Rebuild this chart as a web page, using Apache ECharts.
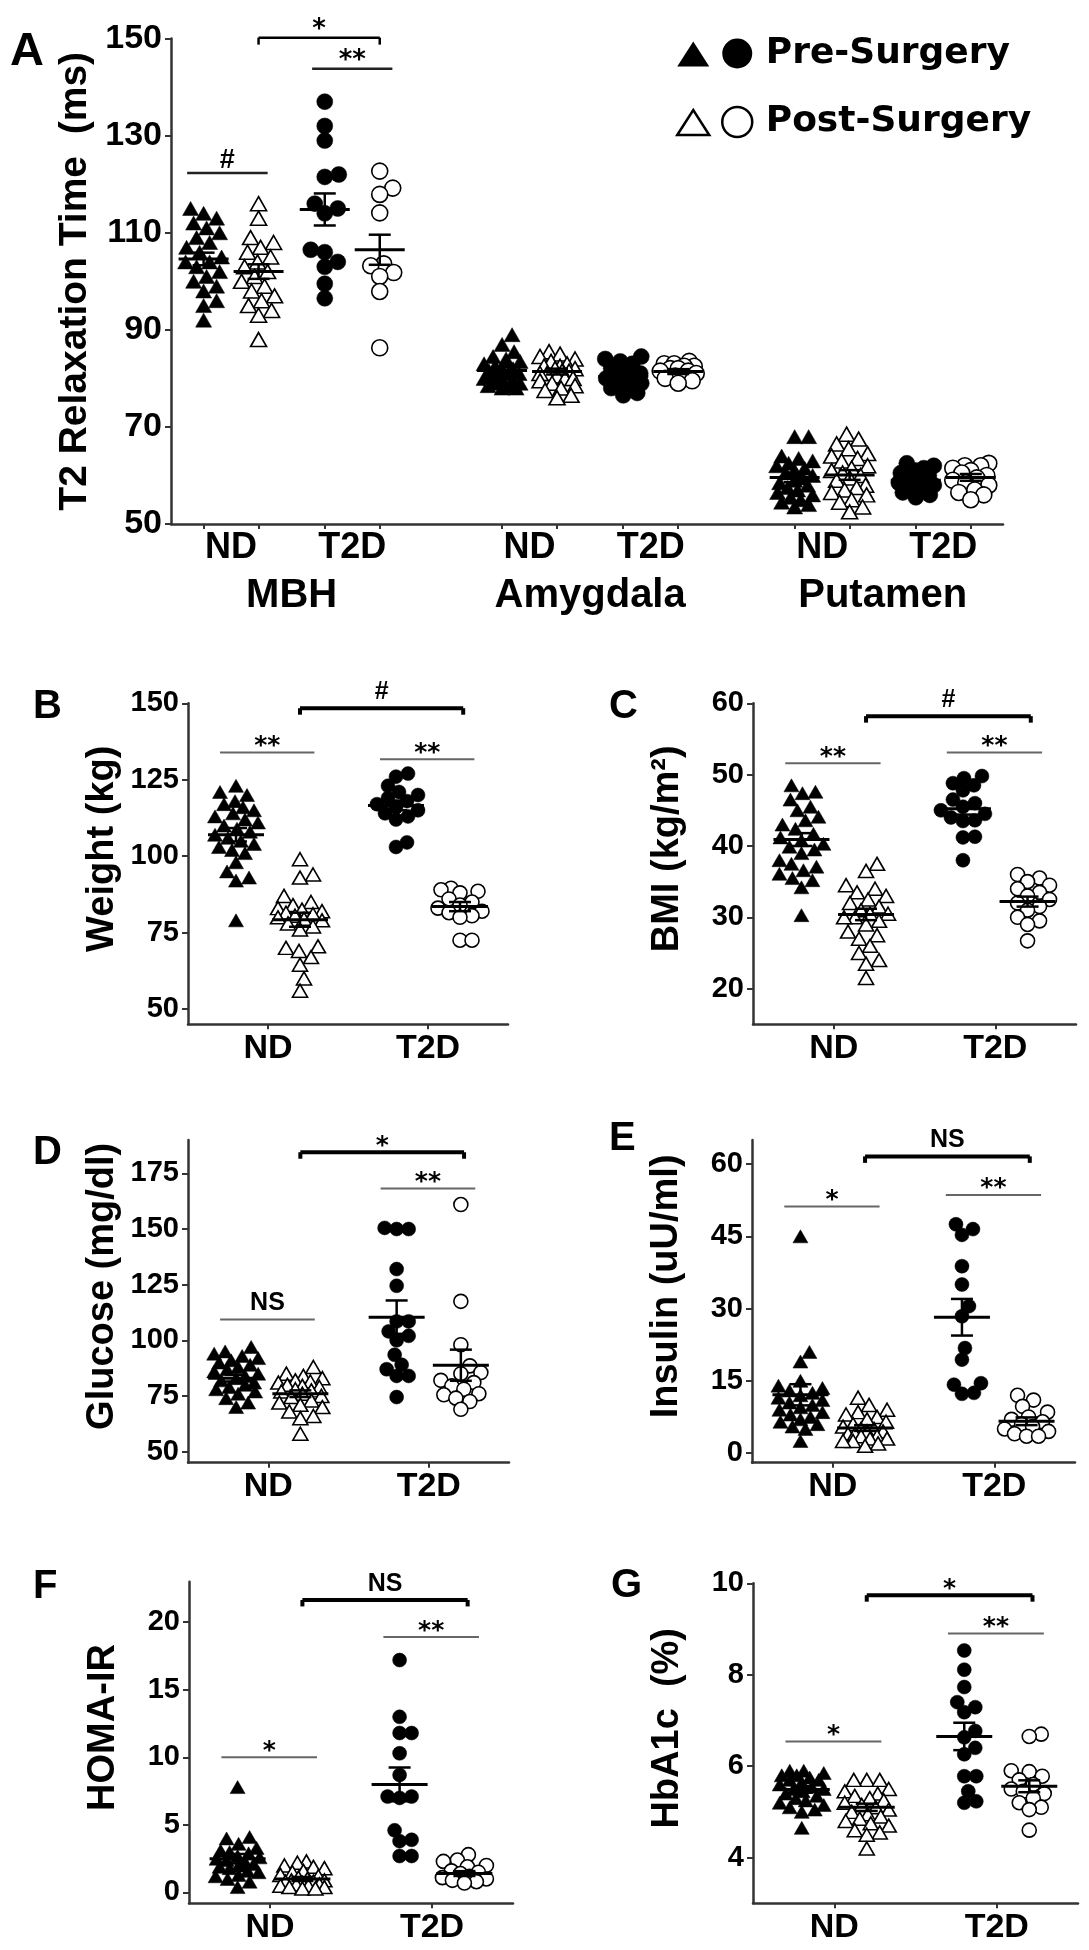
<!DOCTYPE html>
<html>
<head>
<meta charset="utf-8">
<script src="https://cdn.jsdelivr.net/npm/echarts@6/dist/echarts.min.js"></script>
<style>html,body{margin:0;padding:0;background:#fff}#chart{width:1089px;height:1950px}</style>
</head>
<body>
<div id="chart"></div>
<script>
// ---------------- DATA ----------------
const conditions = ['Pre-Surgery', 'Post-Surgery'];
const groupLabels = ['ND', 'T2D'];
const regionLabels = ['MBH', 'Amygdala', 'Putamen'];

// Panel A: T2 relaxation time (ms)
const mbhNDPre = [115,114,113,112,111,110,109,108,107,106,105,104,104,103,102,101,100,99,98,96,95,92];
const mbhNDPost = [116,113,109,108,107,106,105,104,103,102,101,100,99,98,97,96,95,94,93,88];
const mbhT2DPre = [137,132,129,122,121.5,116,115,114,106.5,106,104,103,99.5,96.5];
const mbhT2DPost = [122.7,119.2,117.9,114.1,103.6,103.2,101.8,101,97.9,86.3];
const amyNDPre = [89,87,85.5,84.5,84,83.5,83,82.5,82,82,81.5,81,81,80.5,80,80,79.5,79.5,79,79,78.5,78.5,78,78];
const amyNDPost = [85.5,85,84.5,84,83.5,83,82.5,82.5,82,82,81.5,81.5,81,81,80.5,80,80,79.5,79,78.5,78,77.5,76.5,76];
const amyT2DPre = [84.5,84,83.5,83,82,81.5,81,80.5,80,79.5,79,78.5,78,77,76.5];
const amyT2DPost = [83.5,83,83,82.5,82.5,82,82,81.5,81.5,81,80.5,80,80,79.5,79];
const putNDPre = [68,68,64,63.5,63,62.5,62,61.5,61,60.5,60,59.5,59,58.5,58,57.5,57,56.5,56,55.5,55,54.5,54,53.5];
const putNDPost = [68.5,67.5,66.5,65.5,64.5,64,63.5,63,62,61.5,61,60.5,60,59.5,59,58,57.5,57,56.5,56,55,54.5,53.5,52.5];
const putT2DPre = [62.5,62,61.5,61,60.5,60,59.5,59,58.5,58,57.5,57,56.5,56,55.5];
const putT2DPost = [62.5,62,62,61.5,61,60.5,60,59.5,59,58.5,58,57,56.5,56,55];
// mean, SEM  (ND pre, ND post, T2D pre, T2D post)
const mbhMeanSem = [[104.6,1.3],[102.0,1.5],[114.8,3.3],[106.5,3.1]];
const amyMeanSem = [[81.6,0.7],[81.4,0.6],[80.4,0.7],[81.4,0.5]];
const putMeanSem = [[59.6,1.0],[60.1,1.0],[59.0,0.7],[59.6,0.7]];
const t2Ticks = [50,70,90,110,130,150];

// Panel B: Weight (kg)
const weightNDPre = [123,121,120,118,117,116,115,114,113,112,111,110,109,108,107,106,105,104,103,102,101,98,95,93,92,79];
const weightNDPost = [99,94,93,87,85,84,83,82.5,82,81.5,81,80.5,80,79.5,79,78,77,76,70.5,70,69,67,64.5,60,56];
const weightT2DPre = [127,126,123,121,120,119,118,117,116,115,114,113,112,104.5,103];
const weightT2DPost = [89.5,89,88.5,88,86,85,84,83,82,81.5,80.5,80,72.5,72.5];
const weightMeanSem = [[107.0,2.2],[79.2,2.3],[116.6,1.6],[83.5,1.5]];
const weightTicks = [50,75,100,125,150];

// Panel C: BMI (kg/m2)
const bmiNDPre = [48.5,47.6,47.4,46.5,45.5,45,44.1,43.6,43,42.4,41.7,41.2,40.8,40.3,39.9,39.5,39,38,37.5,37.1,36.6,36.1,35.5,35.2,34.2,30.3];
const bmiNDPost = [37.5,36.5,34.5,34,33.5,33,32.5,32,31.5,31,30.5,30.5,30,30,29.5,29,28,27.5,27,26,25,24,23.5,21.5];
const bmiT2DPre = [49.8,49.5,48.8,48.5,47.8,46.5,46,45.5,45,44.5,44,43.6,43.5,41.3,41.2,38];
const bmiT2DPost = [36,35.5,35,34.5,34,33.5,33,32.5,32,31.5,31,30,29.5,29,26.7];
const bmiMeanSem = [[40.9,0.9],[30.4,0.8],[45.2,0.8],[32.2,0.7]];
const bmiTicks = [20,30,40,50,60];

// Panel D: Glucose (mg/dl)
const gluNDPre = [97,95,94,93,92,91,90,89,88,87,86,85,84,83,82,81,80,79,78,77,76,74,72,70];
const gluNDPost = [88,85,84,83,82,81.5,81,80,79.5,79,78,77.5,77,76,75,74.5,73,72,71,70,68,66,65,58];
const gluT2DPre = [150.5,150,150,132,124.5,108.5,108.5,104,102,100,93.5,89,87,84,84,74.5];
const gluT2DPost = [161,117.5,98,88.5,85.5,85,82,81,79.5,78,76,75.5,74,72.5,69];
const gluMeanSem = [[83.0,1.5],[76.0,1.5],[110.4,7.5],[88.8,7.0]];
const gluTicks = [50,75,100,125,150,175];

// Panel E: Insulin (uU/ml)
const insNDPre = [45,21,19,15,14,13.5,13,12.5,12,11.5,11,10.5,10,9.5,9,8.5,8,7.5,7,6.5,6,5.5,5,2.5];
const insNDPost = [11.5,10,9,8.5,8,7.5,7,6.5,6,5.5,5,5,4.5,4.5,4,4,3.5,3.5,3,3,2.5,2.5,2,1.5];
const insT2DPre = [47.5,46.5,45.3,38.8,35,30.5,28.4,21.8,19.4,14.5,14.2,12.5,12.3];
const insT2DPost = [12,11,9.7,8.5,7.5,7,6.5,6,5.5,5,4.5,4,3.5,3.5];
const insMeanSem = [[12.1,2.2],[5.2,0.6],[28.2,3.8],[6.6,0.8]];
const insTicks = [0,15,30,45,60];

// Panel F: HOMA-IR
const homaNDPre = [7.8,4.1,4,3.6,3.3,3.1,3,2.9,2.7,2.6,2.5,2.4,2.2,2.1,2,1.9,1.8,1.6,1.5,1.3,1.2,1,0.8,0.4];
const homaNDPost = [2.3,2.2,2,1.9,1.8,1.6,1.5,1.3,1.2,1.1,1,0.9,0.9,0.8,0.8,0.7,0.6,0.6,0.5,0.5,0.4,0.4,0.3,0.3];
const homaT2DPre = [17.2,13,11.8,11.8,10.3,8.7,7.1,7.1,7,4.6,3.9,3.8,2.7,2.7];
const homaT2DPost = [2.8,2.4,2.3,2,1.9,1.6,1.5,1.4,1.2,1.1,1,0.9,0.8,0.7];
const homaMeanSem = [[2.5,0.35],[1.0,0.15],[8.0,1.25],[1.4,0.18]];
const homaTicks = [0,5,10,15,20];

// Panel G: HbA1c (%)
const hbaNDPre = [5.9,5.9,5.85,5.8,5.8,5.75,5.7,5.7,5.65,5.6,5.55,5.5,5.5,5.45,5.4,5.35,5.3,5.25,5.2,5.15,5.1,5.05,5.0,4.65];
const hbaNDPost = [5.7,5.7,5.7,5.5,5.45,5.4,5.35,5.3,5.25,5.2,5.15,5.1,5.05,5.0,4.95,4.9,4.85,4.8,4.75,4.7,4.6,4.55,4.5,4.2];
const hbaT2DPre = [8.53,8.11,7.73,7.4,7.29,7.18,6.77,6.63,6.4,6.26,5.78,5.78,5.45,5.23,5.2];
const hbaT2DPost = [6.7,6.65,5.9,5.88,5.78,5.7,5.6,5.5,5.45,5.4,5.3,5.2,5.1,5.05,4.6];
const hbaMeanSem = [[5.49,0.07],[5.1,0.08],[6.65,0.3],[5.56,0.13]];
const hbaTicks = [4,6,8,10];

// significance annotations: [label, span, y-value]
const mbhSig = [['#','ND',122.3],['**','T2D',143.8],['*','between',150.2]];
const weightSig = [['**','ND',133.9],['**','T2D',131.7],['#','between',148.4]];
const bmiSig = [['**','ND',51.6],['**','T2D',53.1],['#','between',58.2]];
const gluSig = [['NS','ND',109.3],['**','T2D',168.2],['*','between',184.5]];
const insSig = [['*','ND',51.2],['**','T2D',53.6],['NS','between',61.6]];
const homaSig = [['*','ND',10.0],['**','T2D',18.9],['NS','between',21.65]];
const hbaSig = [['*','ND',6.54],['**','T2D',8.9],['*','between',9.74]];

// ---------------- LAYOUT / RENDERING ----------------
const AXC = '#333';
const SANS = 'Liberation Sans';
const WIDE = 'DejaVu Sans';

const option = {
  animation: false,
  backgroundColor: '#fff',
  title: [],
  legend: {
    orient: 'vertical', left: 671, top: 30.5, itemWidth: 76, itemHeight: 30, itemGap: 32.5,
    selectedMode: false,
    textStyle: { fontSize: 36, fontWeight: 'bold', fontFamily: WIDE, color: '#000', padding: [0,0,0,8] },
    data: [
      { name: conditions[0], icon: 'path://M0,28L16,3L32,28Z M45,15A15,15,0,1,0,75,15A15,15,0,1,0,45,15Z', itemStyle: { color: '#000', borderWidth: 0, opacity: 1 } },
      { name: conditions[1], icon: 'path://M0,28L16,3L32,28Z M45,15A15,15,0,1,0,75,15A15,15,0,1,0,45,15Z', itemStyle: { color: '#fff', borderColor: '#000', borderWidth: 2.5, opacity: 1 } }
    ]
  },
  grid: [], xAxis: [], yAxis: [], series: []
};

// deterministic beeswarm placement (pixel based) computed from the values
function swarm(values, center, pxPerX, pxPerY, diam, maxPx) {
  const order = values.map((v, i) => i).sort((a, b) => values[a] - values[b]);
  const placed = [];
  const out = new Array(values.length);
  for (const i of order) {
    const y = values[i] * pxPerY;
    let best = 0, bestScore = -Infinity, found = false;
    for (let k = 0; k <= maxPx && !found; k += 1) {
      const cands = k === 0 ? [0] : [k, -k];
      for (const s of cands) {
        let minD = Infinity;
        for (const p of placed) {
          const d = Math.hypot(p.x - s, p.y - y);
          if (d < minD) minD = d;
        }
        if (minD >= diam * 0.85) { best = s; found = true; break; }
        if (minD > bestScore + 0.5) { bestScore = minD; best = s; }
      }
    }
    placed.push({ x: best, y: y });
    out[i] = [center + best / pxPerX, values[i]];
  }
  return out;
}

function meanRenderer(halfW, capW) {
  return function (params, api) {
    const x = api.value(0), m = api.value(1), s = api.value(2);
    const c = api.coord([x, m]), hi = api.coord([x, m + s]), lo = api.coord([x, m - s]);
    const st = { stroke: '#000', lineWidth: 3 };
    const st2 = { stroke: '#000', lineWidth: 2.5 };
    return { type: 'group', children: [
      { type: 'line', shape: { x1: c[0] - halfW, y1: c[1], x2: c[0] + halfW, y2: c[1] }, style: st },
      { type: 'line', shape: { x1: c[0], y1: hi[1], x2: c[0], y2: lo[1] }, style: st2 },
      { type: 'line', shape: { x1: c[0] - capW, y1: hi[1], x2: c[0] + capW, y2: hi[1] }, style: st2 },
      { type: 'line', shape: { x1: c[0] - capW, y1: lo[1], x2: c[0] + capW, y2: lo[1] }, style: st2 }
    ]};
  };
}

function sigRenderer(sig, cfg) {
  return function (params, api) {
    const item = sig[params.dataIndex];
    const between = item[1] === 'between';
    const a = api.coord([api.value(0), api.value(2)]);
    const b = api.coord([api.value(1), api.value(2)]);
    const st = between ? { stroke: '#000', lineWidth: cfg.bw } : { stroke: cfg.wc, lineWidth: cfg.ww };
    const ch = [{ type: 'line', shape: { x1: a[0], y1: a[1], x2: b[0], y2: b[1] }, style: st }];
    if (between) {
      ch.push({ type: 'line', shape: { x1: a[0], y1: a[1], x2: a[0], y2: a[1] + cfg.tick }, style: st });
      ch.push({ type: 'line', shape: { x1: b[0], y1: b[1], x2: b[0], y2: b[1] + cfg.tick }, style: st });
    }
    const lab = item[0];
    const star = lab.indexOf('*') >= 0;
    ch.push({ type: 'text', x: (a[0] + b[0]) / 2, y: a[1] - (star ? cfg.starOff : cfg.txtOff),
      style: { text: lab, fill: '#000', fontSize: star ? cfg.fs : cfg.fs2, fontWeight: 'bold', fontFamily: star ? WIDE : SANS, align: 'center', verticalAlign: 'middle' } });
    return { type: 'group', children: ch };
  };
}

function nearestLabel(list, names, v) {
  let k = 0, bd = Infinity;
  list.forEach((lx, j) => { if (Math.abs(lx - v) < bd) { bd = Math.abs(lx - v); k = j; } });
  return names[k];
}

function addPanel(p) {
  const gi = option.grid.length;
  const [left, top, width, height] = p.box;
  option.grid.push({ left: left, top: top, width: width, height: height, containLabel: false, outerBoundsMode: 'none' });
  const xi = option.xAxis.length;
  option.xAxis.push({
    gridIndex: gi, type: 'value', min: p.x[0], max: p.x[1], position: 'bottom',
    axisLine: { show: true, onZero: false, lineStyle: { color: AXC, width: 2.5 } },
    axisTick: { show: true, inside: false, length: 5, customValues: p.tickX, lineStyle: { color: AXC, width: 2 } },
    axisLabel: { show: true, customValues: p.labelX, margin: p.xMargin, fontSize: p.xSize, fontWeight: 'bold', fontFamily: SANS, color: '#000',
      formatter: v => nearestLabel(p.labelX, p.labelText, v) },
    splitLine: { show: false }
  });
  if (p.regionX) {
    option.xAxis.push({
      gridIndex: gi, type: 'value', min: p.x[0], max: p.x[1], position: 'bottom', offset: 46,
      axisLine: { show: false }, axisTick: { show: false }, splitLine: { show: false },
      axisLabel: { show: true, customValues: p.regionX, margin: 6, fontSize: 40, fontWeight: 'bold', fontFamily: SANS, color: '#000',
        formatter: v => nearestLabel(p.regionX, regionLabels, v) }
    });
  }
  const yi = option.yAxis.length;
  option.yAxis.push({
    gridIndex: gi, type: 'value', min: p.y[0], max: p.y[1],
    name: p.name, nameLocation: 'middle', nameGap: p.nameGap, nameRotate: 90,
    nameTextStyle: { fontSize: p.nameSize, fontWeight: 'bold', fontFamily: SANS, color: '#000', padding: p.namePad },
    axisLine: { show: true, lineStyle: { color: AXC, width: 2.5 } },
    axisTick: { show: true, length: 6, customValues: p.ticks, lineStyle: { color: AXC, width: 2 } },
    axisLabel: { show: true, customValues: p.ticks, margin: 9, fontSize: p.tickSize, fontWeight: 'bold', fontFamily: SANS, color: '#000' },
    splitLine: { show: false }
  });
  option.title.push({ text: p.letter, left: p.letterPos[0], top: p.letterPos[1], padding: 0,
    textStyle: { fontSize: p.letterSize, fontWeight: 'bold', fontFamily: SANS, color: '#000' } });

  const pxPerX = width / (p.x[1] - p.x[0]);
  const pxPerY = height / (p.y[1] - p.y[0]);
  p.sets.forEach(s => {
    const tri = s.kind === 0;
    const pre = s.cond === 0;
    const diam = tri ? p.triSize[0] : p.circSize;
    option.series.push({
      type: 'scatter', name: conditions[s.cond], xAxisIndex: xi, yAxisIndex: yi,
      symbol: tri ? 'triangle' : 'circle',
      symbolSize: tri ? p.triSize : p.circSize,
      itemStyle: pre ? { color: '#000', borderColor: '#000', borderWidth: 0.5, opacity: 1 } : { color: '#fff', borderColor: '#000', borderWidth: 1.6, opacity: 1 },
      z: 3,
      emphasis: { disabled: true },
      data: swarm(s.values, s.x, pxPerX, pxPerY, diam, p.spread)
    });
  });
  option.series.push({
    type: 'custom', name: 'mean \u00b1 SEM', xAxisIndex: xi, yAxisIndex: yi, z: 5,
    renderItem: meanRenderer(p.meanHalf, p.capHalf),
    data: p.stats.map(st => [st.x, st.m, st.s])
  });
  option.series.push({
    type: 'custom', name: 'significance', xAxisIndex: xi, yAxisIndex: yi, z: 6,
    renderItem: sigRenderer(p.sig, p.sigCfg),
    data: p.sig.map(sg => [sg[3][0], sg[3][1], sg[2]])
  });
}

// ---- panel A ----
(function () {
  const regX = [1, 2.01, 3];
  const gOff = 0.205, po = 0.093;
  const regionData = [
    [mbhNDPre, mbhNDPost, mbhT2DPre, mbhT2DPost, mbhMeanSem],
    [amyNDPre, amyNDPost, amyT2DPre, amyT2DPost, amyMeanSem],
    [putNDPre, putNDPost, putT2DPre, putT2DPost, putMeanSem]
  ];
  const sets = [], stats = [], tickX = [], labelX = [], labelText = [];
  regionData.forEach((rd, r) => {
    [0, 1].forEach(g => {
      const gc = regX[r] + (g === 0 ? -gOff : gOff);
      labelX.push(gc); labelText.push(groupLabels[g]);
      [0, 1].forEach(c => {
        const x = gc + (c === 0 ? -po : po);
        tickX.push(x);
        sets.push({ values: rd[g * 2 + c], x: x, kind: g, cond: c });
        stats.push({ x: x, m: rd[4][g * 2 + c][0], s: rd[4][g * 2 + c][1] });
      });
    });
  });
  const ndC = regX[0] - gOff, t2C = regX[0] + gOff;
  const sig = mbhSig.map(sg => {
    let span;
    if (sg[1] === 'ND') span = [ndC - 1.6 * po, ndC + 1.33 * po];
    else if (sg[1] === 'T2D') span = [t2C - 1.46 * po, t2C + 1.46 * po];
    else span = [ndC + po, t2C + po];
    return [sg[0], sg[1], sg[2], span];
  });
  addPanel({
    letter: 'A', letterPos: [10, 29], letterSize: 47,
    box: [171, 38.6, 832, 485.4], x: [0.5917, 3.407], y: [50, 150], ticks: t2Ticks, tickSize: 34,
    name: 'T2 Relaxation Time  (ms)', nameGap: 70, nameSize: 39, namePad: [0, 0, 0, 0],
    tickX: tickX, labelX: labelX, labelText: labelText, regionX: regX, xSize: 36, xMargin: 6,
    sets: sets, stats: stats, sig: sig,
    triSize: [16, 14], circSize: 16, spread: 18, meanHalf: 25, capHalf: 11,
    sigCfg: { bw: 2.5, wc: '#222', ww: 2.5, tick: 7, fs: 26, fs2: 27, starOff: 7, txtOff: 13 }
  });
})();

// ---- panels B..G ----
function simplePanel(cfg) {
  const gx = [1, 2], po = 0.2;
  const arr = cfg.data;
  const sets = [], stats = [];
  [0, 1].forEach(g => [0, 1].forEach(c => {
    const x = gx[g] + (c === 0 ? -po : po);
    sets.push({ values: arr[g * 2 + c], x: x, kind: g, cond: c });
    stats.push({ x: x, m: cfg.ms[g * 2 + c][0], s: cfg.ms[g * 2 + c][1] });
  }));
  const sig = cfg.sig.map(sg => {
    let span;
    if (sg[1] === 'ND') span = [gx[0] - 1.5 * po, gx[0] + 1.45 * po];
    else if (sg[1] === 'T2D') span = [gx[1] - 1.5 * po, gx[1] + 1.45 * po];
    else span = [gx[0] + po, gx[1] + po * 1.1];
    return [sg[0], sg[1], sg[2], span];
  });
  addPanel({
    letter: cfg.letter, letterPos: cfg.letterPos, letterSize: 40,
    box: cfg.box, x: [0.5, 2.5], y: cfg.y, ticks: cfg.ticks, tickSize: 29,
    name: cfg.name, nameGap: 66, nameSize: 38, namePad: [0, 0, 0, 30],
    tickX: gx, labelX: gx, labelText: groupLabels, xSize: 34, xMargin: 7,
    sets: sets, stats: stats, sig: sig,
    triSize: [15, 13], circSize: 14, spread: 22, meanHalf: 28, capHalf: 11,
    sigCfg: { bw: 4, wc: '#666', ww: 2, tick: 6.5, fs: 25, fs2: 25, starOff: 6, txtOff: 16 }
  });
}

simplePanel({ letter: 'B', letterPos: [33, 687], box: [188, 703.3, 320, 321], y: [45, 150], ticks: weightTicks,
  name: 'Weight (kg)', data: [weightNDPre, weightNDPost, weightT2DPre, weightT2DPost], ms: weightMeanSem, sig: weightSig });
simplePanel({ letter: 'C', letterPos: [609, 687], box: [753, 703.3, 323, 321], y: [15, 60], ticks: bmiTicks,
  name: 'BMI (kg/m\u00b2)', data: [bmiNDPre, bmiNDPost, bmiT2DPre, bmiT2DPost], ms: bmiMeanSem, sig: bmiSig });
simplePanel({ letter: 'D', letterPos: [33, 1132.5], box: [188, 1140, 321, 322.7], y: [45, 190], ticks: gluTicks,
  name: 'Glucose (mg/dl)', data: [gluNDPre, gluNDPost, gluT2DPre, gluT2DPost], ms: gluMeanSem, sig: gluSig });
simplePanel({ letter: 'E', letterPos: [609, 1119], box: [752, 1140, 323, 322.7], y: [-2, 65], ticks: insTicks,
  name: 'Insulin (uU/ml)', data: [insNDPre, insNDPost, insT2DPre, insT2DPost], ms: insMeanSem, sig: insSig });
simplePanel({ letter: 'F', letterPos: [33, 1566.7], box: [189, 1581.7, 324, 321.6], y: [-0.8, 23], ticks: homaTicks,
  name: 'HOMA-IR', data: [homaNDPre, homaNDPost, homaT2DPre, homaT2DPost], ms: homaMeanSem, sig: homaSig });
simplePanel({ letter: 'G', letterPos: [611, 1565.8], box: [753, 1583.3, 325, 320], y: [3, 10], ticks: hbaTicks,
  name: 'HbA1c  (%)', data: [hbaNDPre, hbaNDPost, hbaT2DPre, hbaT2DPost], ms: hbaMeanSem, sig: hbaSig });

const chart = echarts.init(document.getElementById('chart'), null, { renderer: 'canvas', width: 1089, height: 1950 });
chart.setOption(option);
</script>
</body>
</html>
